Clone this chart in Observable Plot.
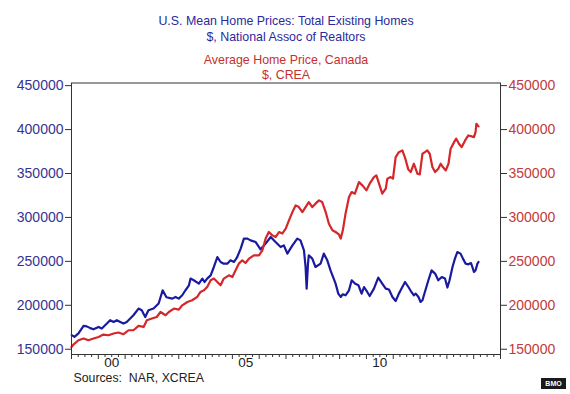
<!DOCTYPE html>
<html><head><meta charset="utf-8">
<script src="https://cdn.jsdelivr.net/npm/d3@7"></script>
<script src="https://cdn.jsdelivr.net/npm/@observablehq/plot@0.6"></script>
<style>
body{margin:0;background:#fff;}
#wrap{position:relative;width:570px;height:394px;}
#bmo{position:absolute;left:541px;top:378px;width:25px;height:11px;background:#1a1a1a;color:#fff;font:bold 7px 'Liberation Sans',Arial,sans-serif;line-height:11px;text-align:center;}
</style></head><body><div id="wrap"><div id="bmo">BMO</div></div>
<script>
// U.S. mean home price (NAR), $
const usYears = [
 1999.01,1999.11,1999.26,1999.45,1999.57,1999.70,1999.82,
 2000.01,2000.13,2000.32,2000.44,2000.57,2000.69,2000.82,2000.94,
 2001.06,2001.19,2001.31,2001.50,2001.62,2001.75,2001.87,
 2002.06,2002.25,2002.40,2002.54,2002.76,2002.88,
 2003.00,2003.13,2003.25,2003.38,2003.44,2003.56,2003.75,2003.88,2003.96,
 2004.06,2004.19,2004.31,2004.44,2004.56,2004.68,2004.81,2004.93,
 2005.06,2005.18,2005.31,2005.43,2005.56,2005.68,2005.87,
 2006.05,2006.24,2006.43,2006.61,2006.80,2006.92,
 2007.05,2007.24,2007.42,2007.54,2007.67,2007.73,2007.77,2007.82,2007.85,2007.98,
 2008.10,2008.29,2008.41,2008.54,2008.66,2008.85,2008.95,
 2009.04,2009.12,2009.22,2009.35,2009.45,2009.57,2009.70,2009.82,2009.91,
 2010.03,2010.12,2010.28,2010.44,2010.59,2010.72,2010.84,2010.97,
 2011.09,2011.21,2011.31,2011.44,2011.56,2011.65,2011.77,2011.84,2011.94,
 2012.02,2012.09,2012.18,2012.31,2012.43,2012.56,2012.68,2012.81,2012.93,
 2013.02,2013.10,2013.21,2013.30,2013.39,2013.51,2013.60,2013.70,2013.80,2013.90,2013.95,
 2014.01,2014.07,2014.14,2014.18];
const usValues = [
 166000,164000,168000,176500,176000,174000,172700,
 175400,173500,179200,183000,181000,183000,181000,179200,
 181000,184900,188700,196300,194300,186700,194300,
 196300,202000,217100,209100,207600,209500,
 207600,211400,217100,222800,230400,228500,224700,230400,226500,
 230400,234100,243600,254900,249300,247400,247400,251200,
 249300,254900,264500,275900,275900,273900,272000,
 263700,270200,277700,272000,266300,268200,
 258800,268200,275900,273900,262600,243600,219000,247400,256900,253100,
 243600,247400,258800,251200,239800,224700,213300,
 209500,212500,211400,217100,228500,224700,222800,213300,220800,
 215200,210600,219000,231500,224700,219000,217900,209500,
 204900,213300,219000,226500,221100,216500,211400,213300,209500,
 203800,205700,215200,228500,239800,236100,228500,232200,230400,
 220200,228500,243600,253100,260600,258800,253100,247400,246600,248100,243600,
 237900,239800,247400,249300];

// Canada average home price (CREA), $
const caYears = [
 1999.00,1999.07,1999.26,1999.45,1999.63,1999.82,
 2000.01,2000.19,2000.38,2000.57,2000.75,2000.94,
 2001.13,2001.31,2001.50,2001.69,2001.81,
 2002.00,2002.18,2002.32,2002.51,2002.63,2002.82,
 2003.00,2003.13,2003.32,2003.50,2003.69,2003.81,2003.94,
 2004.06,2004.19,2004.31,2004.44,2004.56,2004.68,2004.87,
 2005.00,2005.12,2005.24,2005.37,2005.49,2005.62,2005.80,2005.99,
 2006.12,2006.24,2006.36,2006.49,2006.61,2006.74,2006.86,2006.99,
 2007.11,2007.24,2007.36,2007.48,2007.61,2007.73,2007.85,2007.98,
 2008.10,2008.23,2008.35,2008.48,2008.60,2008.73,2008.85,2008.97,
 2009.04,2009.12,2009.22,2009.35,2009.45,2009.57,2009.72,2009.85,
 2010.00,2010.12,2010.28,2010.37,2010.47,2010.59,2010.72,2010.78,2010.90,2010.99,
 2011.09,2011.21,2011.34,2011.46,2011.56,2011.65,2011.77,2011.90,2011.99,
 2012.09,2012.18,2012.27,2012.36,2012.46,2012.56,2012.68,2012.77,2012.85,2012.96,
 2013.06,2013.14,2013.27,2013.35,2013.45,2013.55,2013.68,2013.80,2013.93,
 2014.01,2014.07,2014.10,2014.18];
const caValues = [
 152300,155300,160200,162200,160200,162200,
 164000,166700,165900,167900,169000,167100,
 171600,171600,176500,175400,183000,
 184900,186700,192400,188700,192400,196300,
 195100,200000,203800,205700,209500,215200,217100,
 220800,228500,230400,226500,222800,230400,234100,
 232200,239800,247400,251200,248100,253100,256900,256900,
 262600,275900,283400,279600,277700,283400,281600,287200,
 296700,306100,313700,311800,306100,311800,317500,311800,
 315700,319400,317500,306100,292900,285300,283400,280800,
 275900,285300,304300,323200,328900,327000,340200,336500,
 330800,338400,345900,347800,338400,327000,332700,344100,345900,344100,
 368600,374300,376300,366000,354700,351600,361100,349800,349000,
 372500,374300,376300,372500,357300,351600,355500,361100,357300,353500,
 361100,378200,385700,389600,383900,380000,387600,393300,392200,
 391400,397100,406600,403600];

const yTicks = [150000,200000,250000,300000,350000,400000,450000];
const xLabelYears = [2000,2005,2010];
const xLabels = ["00","05","10"];
const usTitle = ["U.S. Mean Home Prices: Total Existing Homes","$, National Assoc of Realtors"];
const caTitle = ["Average Home Price, Canada","$, CREA"];
const sourceNote = "Sources:\u00a0 NAR, XCREA";

const blue = "#1a1aa0", red = "#d52629";
const blueText = "#2a2a9c", redText = "#c4302e";
const leftLab = "#34348f", rightLab = "#c23a3c";

const us = usYears.map((t,i)=>({t, v: usValues[i]}));
const ca = caYears.map((t,i)=>({t, v: caValues[i]}));
const yearTicks = d3.range(1999, 2016);
const quarterTicks = d3.range(1999, 2015.001, 0.25).filter(d => d % 1 !== 0);
const labelMap = new Map(xLabelYears.map((y,i)=>[y+0.5, xLabels[i]]));

const chart = Plot.plot({
  width: 570, height: 394,
  marginLeft: 71, marginRight: 70, marginTop: 82.5, marginBottom: 40,
  style: {fontFamily: "'Liberation Sans', Arial, sans-serif", fontSize: "14px", background: "#fff"},
  x: {type: "linear", domain: [1999, 2015]},
  y: {domain: [144000, 453000]},
  marks: [
    Plot.line(us, {x: "t", y: "v", stroke: blue, strokeWidth: 2.2}),
    Plot.line(ca, {x: "t", y: "v", stroke: red, strokeWidth: 2.2}),
    Plot.frame({stroke: "#333"}),
    Plot.axisY({anchor: "left", ticks: yTicks, tickSize: 6, tickPadding: 2, tickFormat: d => String(d), fill: leftLab, stroke: "#333", fontSize: 14, label: null}),
    Plot.axisY({anchor: "right", ticks: yTicks, tickSize: 6, tickPadding: 2, tickFormat: d => String(d), fill: rightLab, stroke: "#333", fontSize: 14, label: null}),
    Plot.axisX({ticks: yearTicks, tickSize: 5, tickFormat: () => "", stroke: "#333", label: null}),
    Plot.axisX({ticks: quarterTicks, tickSize: 3, tickFormat: () => "", stroke: "#333", label: null}),
    Plot.axisX({ticks: [...labelMap.keys()], tickSize: 0, tickPadding: 3, tickFormat: d => labelMap.get(d), fill: "#222", fontSize: 13.5, label: null}),
    Plot.text([usTitle[0]], {text: d => d, frameAnchor: "top", dy: -66.5, fill: blueText, fontSize: 12.4}),
    Plot.text([usTitle[1]], {text: d => d, frameAnchor: "top", dy: -50.5, fill: blueText, fontSize: 12.4}),
    Plot.text([caTitle[0]], {text: d => d, frameAnchor: "top", dy: -27.5, fill: redText, fontSize: 12.4}),
    Plot.text([caTitle[1]], {text: d => d, frameAnchor: "top", dy: -13, fill: redText, fontSize: 12.4}),
    Plot.text([sourceNote], {text: d => d, frameAnchor: "bottom-left", textAnchor: "start", dx: 2, dy: 27.5, fill: "#222", fontSize: 12.3})
  ]
});
document.getElementById("wrap").prepend(chart);
</script>
</body></html>
